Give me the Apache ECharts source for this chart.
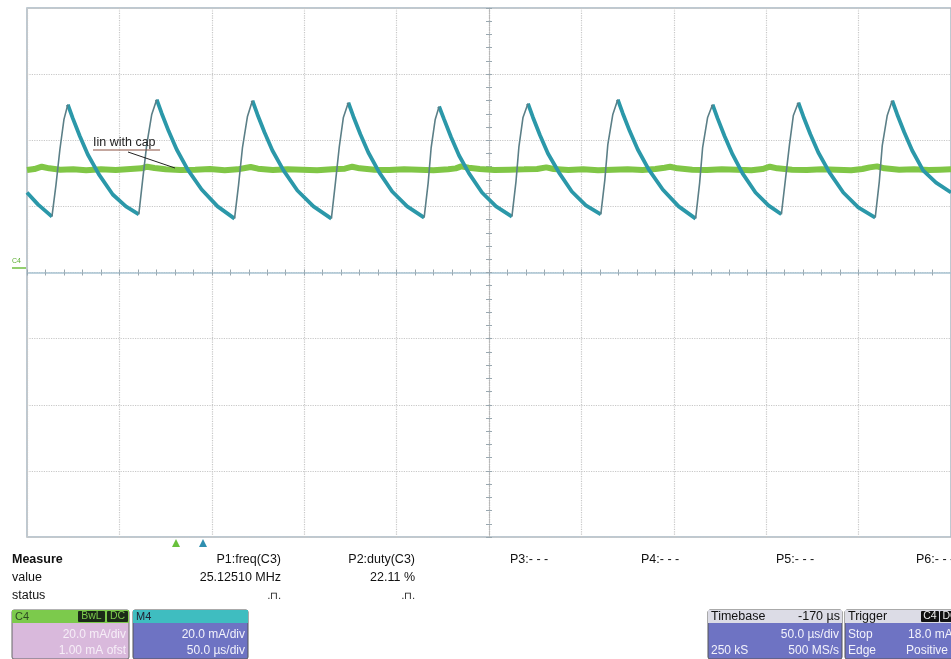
<!DOCTYPE html>
<html><head><meta charset="utf-8">
<script src="https://cdn.jsdelivr.net/npm/echarts@6/dist/echarts.min.js"></script>
<style>html,body{margin:0;padding:0;background:#fff;overflow:hidden}#c{width:951px;height:659px}</style>
</head><body><div id="c"></div>
<script>
// Time in µs relative to screen centre (50 µs/div), current in mA (20 mA/div)
const blueT = [-250,-244.1,-236.5,-234.3,-232.2,-230.0,-227.9,-225.2,-221.4,-217.1,-211.1,-203.6,-196.5,-189.5,
 -187.4,-185.2,-182.5,-179.8,-177.1,-173.3,-169.0,-163.1,-155.5,-146.9,-137.7,
 -135.5,-133.4,-130.7,-128.0,-125.3,-121.5,-117.2,-111.2,-103.7,-95.0,-85.3,
 -83.1,-81.0,-78.8,-76.1,-73.4,-69.6,-65.3,-59.4,-52.4,-44.3,-35.1,
 -32.9,-31.3,-29.1,-27.0,-24.3,-20.5,-16.2,-10.8,-3.8,3.8,12.4,
 14.6,16.2,18.4,21.1,23.8,27.6,31.9,37.8,44.8,52.4,60.5,
 62.7,64.3,67.0,69.7,72.4,76.2,80.5,86.4,94.0,102.6,111.8,
 114.0,115.6,118.3,121.0,123.7,127.5,131.8,137.2,144.2,151.2,158.2,
 160.4,162.6,164.7,167.4,170.1,173.9,178.2,184.2,191.7,199.8,209.0,
 211.2,212.8,215.5,218.2,220.9,224.7,229.0,234.9,241.9,250];
const blueV = [24.2,20.6,16.9,26.6,37.2,46.3,50.8,46.6,41.2,35.7,29.7,23.6,20.0,17.6,
 28.1,38.7,47.8,52.3,48.1,42.7,37.2,31.2,25.1,20.0,16.3,
 26.6,37.8,47.2,52.0,47.8,42.4,36.9,30.9,24.8,20.0,16.3,
 27.2,38.1,46.9,51.4,47.2,41.8,36.3,30.3,24.5,20.0,16.6,
 27.2,37.8,46.3,50.2,46.3,40.9,35.4,30.0,24.2,20.0,16.9,
 27.5,38.1,46.9,51.1,46.9,41.5,36.0,30.3,24.5,20.3,17.6,
 28.1,38.7,47.8,52.3,48.1,42.7,37.2,31.2,25.1,20.0,16.3,
 27.2,37.8,46.9,50.8,46.6,41.2,35.7,30.0,24.2,20.3,17.6,
 28.1,38.7,47.5,51.4,47.2,41.8,36.3,30.3,24.2,19.7,16.6,
 27.5,38.4,47.5,52.0,47.8,42.4,36.9,30.9,27.2,24.2];
const greenT = [-250,-246,-242,-238,-232,-225,-218,-210,-202,-194,-188,-185,-181,-175,-167,-159,-151,-143,-136,-132,-129,-125,
 -117,-109,-101,-93,-85,-78,-74,-70,-62,-54,-46,-38,-30,-22,-18,-15,-11,-5,3,11,19,26,31,35,43,51,59,67,75,83,90,95,98,102,
 110,118,126,134,142,148,152,156,164,172,180,188,196,202,206,210,214,222,230,238,244,250];
const greenV = [31.0,31.3,32.0,31.5,31.1,31.2,30.9,31.2,31.0,31.3,31.5,32.0,31.6,31.2,31.0,31.1,31.3,30.9,31.2,31.6,31.9,31.4,
 31.0,31.2,31.1,30.9,31.2,31.4,32.0,31.5,31.1,31.0,31.2,31.1,30.9,31.2,31.5,32.1,31.7,31.3,31.0,31.1,31.2,31.3,31.8,31.3,31.0,31.2,30.9,31.1,31.2,31.0,31.3,31.7,32.0,31.5,
 31.1,31.0,31.2,31.1,30.9,31.3,32.0,31.5,31.1,31.0,31.2,31.1,30.9,31.3,31.8,32.1,31.5,31.1,31.2,31.0,31.1,31.2];

const measureLabels = ['Measure','value','status'];
const paramNames = ['P1:freq(C3)','P2:duty(C3)','P3:- - -','P4:- - -','P5:- - -','P6:- - -'];
const paramValues = ['25.12510 MHz','22.11 %'];
const annotation = 'Iin with cap';

// split blue trace into slow (falling) and fast (rising) parts
const teal = [], fast = [];
for (let i = 0; i < blueT.length; i++) {
  const up = (i > 0 && blueV[i] > blueV[i-1]) || (i < blueT.length-1 && blueV[i+1] > blueV[i]);
  const down = (i > 0 && blueV[i] < blueV[i-1]) || (i < blueT.length-1 && blueV[i+1] < blueV[i]);
  teal.push([blueT[i], down ? blueV[i] : '-']);
  fast.push([blueT[i], up ? blueV[i] : '-']);
}
const green = greenT.map((t,i)=>[t, greenV[i]]);

const F = '"Liberation Sans", Arial, sans-serif';
function txt(x,y,s,o){o=o||{};return {type:'text',x:x,y:y,z:100,style:{text:s,font:(o.w||'normal')+' '+(o.size||12)+'px '+F,fill:o.c||'#111',textAlign:o.a||'left',textVerticalAlign:'middle'}};}
function rect(x,y,w,h,fill,o){o=o||{};return {type:'rect',z:o.z||90,shape:{x:x,y:y,width:w,height:h,r:o.r||0},style:{fill:fill,stroke:o.s||null,lineWidth:o.lw||0}};}

const graphics = [
  // annotation
  txt(93,143,annotation,{size:12.5,c:'#222'}),
  {type:'line',z:100,shape:{x1:93,y1:150,x2:160,y2:150},style:{stroke:'#8a5040',lineWidth:1}},
  {type:'line',z:100,shape:{x1:128,y1:152,x2:175,y2:168},style:{stroke:'#222',lineWidth:1}},
  // ground marker
  txt(12,261,'C4',{size:7,c:'#5cae32'}),
  {type:'line',z:100,shape:{x1:12,y1:268,x2:26,y2:268},style:{stroke:'#6fbf3f',lineWidth:1.5}},
  // trigger / channel markers
  {type:'polygon',z:100,shape:{points:[[172,547],[180,547],[176,539]]},style:{fill:'#69c13d'}},
  {type:'polygon',z:100,shape:{points:[[199,547],[207,547],[203,539]]},style:{fill:'#2f8fb0'}},
  // measure table
  txt(12,560,measureLabels[0],{w:'bold',size:12.5}),
  txt(12,578,measureLabels[1],{size:12.5}),
  txt(12,596,measureLabels[2],{size:12.5}),
  txt(281,560,paramNames[0],{a:'right',size:12.5}),
  txt(281,578,paramValues[0],{a:'right',size:12.5}),
  txt(281,596,'.⊓.',{a:'right',size:10}),
  txt(415,560,paramNames[1],{a:'right',size:12.5}),
  txt(415,578,paramValues[1],{a:'right',size:12.5}),
  txt(415,596,'.⊓.',{a:'right',size:10}),
  txt(510,560,paramNames[2],{size:12.5}),
  txt(641,560,paramNames[3],{size:12.5}),
  txt(776,560,paramNames[4],{size:12.5}),
  txt(916,560,paramNames[5],{size:12.5}),
  // C4 box
  rect(12,610,117,49,'#d9b9dc',{s:'#666',lw:1,r:2}),
  rect(12,610,117,13,'#7cca4c',{z:91}),
  txt(15,616.5,'C4',{size:11,c:'#2d4a22'}),
  rect(78,611,27,11,'#1b2a18',{z:92,r:1}),
  txt(91.5,616.5,'BwL',{size:10.5,c:'#7cca4c',a:'center'}),
  rect(107,611,21,11,'#1b2a18',{z:92,r:1}),
  txt(117.5,616.5,'DC',{size:10.5,c:'#7cca4c',a:'center'}),
  txt(126,635,'20.0 mA/div',{size:12,c:'#f6eef7',a:'right'}),
  txt(126,651,'1.00 mA ofst',{size:12,c:'#f6eef7',a:'right'}),
  // M4 box
  rect(133,610,115,49,'#6e73c3',{s:'#555',lw:1,r:2}),
  rect(133,610,115,13,'#3fbdc0',{z:91}),
  txt(136,616.5,'M4',{size:11,c:'#223'}),
  txt(245,635,'20.0 mA/div',{size:12,c:'#f2f2fb',a:'right'}),
  txt(245,651,'50.0 µs/div',{size:12,c:'#f2f2fb',a:'right'}),
  // Timebase box
  rect(708,610,134,49,'#6e73c3',{s:'#555',lw:1,r:2}),
  rect(708,610,134,13,'#dcdce6',{z:91}),
  txt(711,617,'Timebase',{size:12.5,c:'#111'}),
  txt(840,617,'-170 µs',{size:12.5,c:'#111',a:'right'}),
  txt(839,635,'50.0 µs/div',{size:12,c:'#f2f2fb',a:'right'}),
  txt(711,651,'250 kS',{size:12,c:'#f2f2fb'}),
  txt(839,651,'500 MS/s',{size:12,c:'#f2f2fb',a:'right'}),
  // Trigger box
  rect(845,610,130,49,'#6e73c3',{s:'#555',lw:1,r:2}),
  rect(845,610,130,13,'#dcdce6',{z:91}),
  txt(848,617,'Trigger',{size:12.5,c:'#111'}),
  rect(921,611,18,11,'#111',{z:92,r:1}),
  txt(930,616.5,'C4',{size:10.5,c:'#eee',a:'center'}),
  rect(940,611,20,11,'#111',{z:92,r:1}),
  txt(950,616.5,'DC',{size:10.5,c:'#eee',a:'center'}),
  txt(848,635,'Stop',{size:12,c:'#f2f2fb'}),
  txt(908,635,'18.0 mA',{size:12,c:'#f2f2fb'}),
  txt(848,651,'Edge',{size:12,c:'#f2f2fb'}),
  txt(906,651,'Positive',{size:12,c:'#f2f2fb'})
];

const gridLine = {show:true,lineStyle:{color:'#c8c8c8',type:'dotted',width:1.2}};
const chart = echarts.init(document.getElementById('c'),null,{renderer:'canvas'});
chart.setOption({
  animation:false,
  backgroundColor:'#fff',
  grid:{left:27,top:8,width:926,height:529,show:true,borderColor:'#a9b8c2',borderWidth:1.5,backgroundColor:'transparent'},
  xAxis:[
    {type:'value',min:-250,max:250,interval:50,position:'bottom',
     axisLine:{show:true,onZero:true,lineStyle:{color:'#a9c3d2',width:1.5}},
     axisTick:{show:true,inside:false,length:3,lineStyle:{color:'#9aa8b0'}},
     minorTick:{show:true,splitNumber:5,length:3,lineStyle:{color:'#9aa8b0'}},
     axisLabel:{show:false},splitLine:gridLine},
    {type:'value',min:-250,max:250,interval:50,position:'top',
     axisLine:{show:false,onZero:true},
     axisTick:{show:true,inside:false,length:3,lineStyle:{color:'#9aa8b0'}},
     minorTick:{show:true,splitNumber:5,length:3,lineStyle:{color:'#9aa8b0'}},
     axisLabel:{show:false},splitLine:{show:false}}
  ],
  yAxis:[
    {type:'value',min:-80,max:80,interval:20,position:'left',
     axisLine:{show:true,onZero:true,lineStyle:{color:'#b8b8b8',type:'dotted',width:1.2}},
     axisTick:{show:true,inside:false,length:3,lineStyle:{color:'#9aa8b0'}},
     minorTick:{show:true,splitNumber:5,length:3,lineStyle:{color:'#9aa8b0'}},
     axisLabel:{show:false},splitLine:gridLine},
    {type:'value',min:-80,max:80,interval:20,position:'right',
     axisLine:{show:false,onZero:true},
     axisTick:{show:true,inside:false,length:3,lineStyle:{color:'#9aa8b0'}},
     minorTick:{show:true,splitNumber:5,length:3,lineStyle:{color:'#9aa8b0'}},
     axisLabel:{show:false},splitLine:{show:false}}
  ],
  series:[
    {name:'C4',type:'line',data:green,symbol:'none',z:2,lineStyle:{color:'#80c646',width:6},silent:true},
    {name:'M4',type:'line',data:teal,symbol:'none',z:3,connectNulls:false,lineStyle:{color:'#2b98a9',width:3.8},silent:true},
    {name:'M4 edge',type:'line',data:fast,symbol:'none',z:4,connectNulls:false,lineStyle:{color:'#5b7f87',width:1.6},silent:true}
  ],
  graphic:graphics
});
</script></body></html>
